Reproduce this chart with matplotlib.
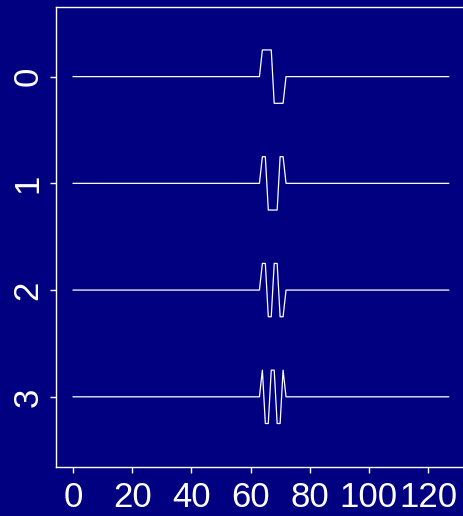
import numpy as np
import matplotlib

matplotlib.use("Agg")
from matplotlib import pyplot as plt

# sample positions and the 8-sample walsh patterns placed at 64..71
n_samples = 128
start = 64
patterns = [
    [1, 1, 1, 1, -1, -1, -1, -1],
    [1, 1, -1, -1, -1, -1, 1, 1],
    [1, 1, -1, -1, 1, 1, -1, -1],
    [1, -1, -1, 1, 1, -1, -1, 1],
]
amp = 0.25
xticks = [0, 20, 40, 60, 80, 100, 120]
yticks = [0, 1, 2, 3]

NAVY = "#000080"

fig = plt.figure(figsize=(4.63, 5.16), dpi=100)
fig.patch.set_facecolor(NAVY)
ax = fig.add_axes([0.1203, 0.0955, 0.8864, 0.8915])
ax.set_facecolor(NAVY)

x = np.arange(n_samples)
for i, p in enumerate(patterns):
    sig = np.zeros(n_samples)
    sig[start:start + len(p)] = p
    ax.plot(x, i - amp * sig, color="white", lw=0.9)

ax.set_xlim(-5.9, 132.9)
ax.set_ylim(3.655, -0.655)
ax.set_xticks(xticks)
ax.set_yticks(yticks)
ax.set_yticklabels([str(t) for t in yticks], rotation=90, va="center")

for s in ax.spines.values():
    s.set_color("white")
    s.set_linewidth(1.0)
ax.tick_params(colors="white", labelcolor="white", length=4, width=1,
               labelsize=25)
ax.tick_params(axis="x", pad=6)
ax.tick_params(axis="y", pad=4)
for lab in ax.get_xticklabels() + ax.get_yticklabels():
    lab.set_family("Liberation Sans")

fig.savefig("out.png", dpi=100, facecolor=NAVY)
